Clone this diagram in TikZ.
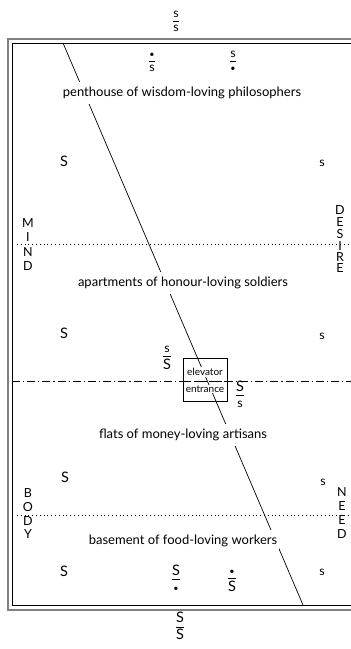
\documentclass[tikz,border=0pt]{standalone}
\usepackage{fontspec}
\setmainfont{Lato}
% stacked pair with a rule between, and a small dot
\newcommand{\stk}[2]{{\setlength{\arrayrulewidth}{0.6pt}\renewcommand{\arraystretch}{0.9}\begin{tabular}{@{}c@{}}#1\\[0pt]\hline\noalign{\vskip 2pt}#2\end{tabular}}}
\newcommand{\pip}{{\fontsize{9}{9}\selectfont\textbullet}}
\begin{document}
\begin{tikzpicture}[x=1pt,y=-1pt,
  floor/.style={font=\fontsize{13}{14}\selectfont, fill=white, inner xsep=2pt, inner ysep=5.5pt},
  bigs/.style={font=\fontsize{14.5}{15}\selectfont, inner sep=0pt},
  frc/.style={font=\fontsize{12.5}{13}\selectfont, inner sep=0pt},
  side/.style={font=\fontsize{12.5}{13}\selectfont, inner sep=0pt},
  lift/.style={font=\fontsize{10}{11}\selectfont, fill=white, inner sep=0.8pt},
  dots/.style={line width=0.6pt, dash pattern=on 0.8pt off 3pt},
  dashdot/.style={line width=0.7pt, dash pattern=on 8pt off 3pt on 1.2pt off 3pt}]
\useasboundingbox (0,0) rectangle (351,649);

% double frame
\draw[gray, line width=1.2pt] (8,39) rectangle (358,610);
\draw[black, line width=1pt] (12,43) rectangle (354,605);

% division lines
\draw[dots] (17,244) -- (351,244);
\draw[dots] (17,515) -- (351,515);
\draw[dashdot] (12,381) -- (351,381);

% slanting line through the building
\coordinate (slashtop) at (63,43);
\coordinate (slashbot) at (303,605);
\draw[line width=0.7pt] (slashtop) -- (slashbot);

% elevator
\node[draw, line width=0.7pt, minimum width=44pt, minimum height=43pt, inner sep=0pt] (box) at (205,380) {};
\node[lift] (elev) at (205,372) {elevator};
\node[lift] (entr) at (205,389) {entrance};
\draw[dashdot] (box.west |- 0,381) -- (box.east |- 0,381);

% floors
\node[floor] (pent) at (182,93) {penthouse of wisdom-loving philosophers};
\node[floor] (apts) at (183,283) {apartments of honour-loving soldiers};
\node[floor] (flats) at (183,435) {flats of money-loving artisans};
\node[floor] (base) at (183,541) {basement of food-loving workers};

% fractions
\node[frc] (ftop) at (176,22) {\stk{s}{s}};
\node[frc] (fa) at (152,62) {\stk{\pip}{s}};
\node[frc] (fb) at (233,62) {\stk{s}{\pip}};
\node[bigs] (fc) at (167,358) {\stk{\fontsize{12.5}{13}\selectfont s}{S}};
\node[bigs] (fd) at (240,396) {\stk{S}{\fontsize{12.5}{13}\selectfont s}};
\node[bigs] (fe) at (176,580) {\stk{S}{\pip}};
\node[bigs] (ff) at (232,580) {\stk{\pip}{S}};
\node[bigs] (fbot) at (180,628) {\stk{S}{S}};

% single letters
\node[bigs] (S1) at (64,161) {S};
\node[bigs] (S2) at (64,333) {S};
\node[bigs] (S3) at (65,477) {S};
\node[bigs] (S4) at (64,571) {S};
\node[frc] (s1) at (322,163) {s};
\node[frc] (s2) at (322,336) {s};
\node[frc] (s3) at (323,482) {s};
\node[frc] (s4) at (322,572) {s};

% side words
\node[side] (m1) at (28,223) {M};
\node[side] (m2) at (28,237) {I};
\node[side] (m3) at (28,252) {N};
\node[side] (m4) at (28,266) {D};
\node[side] (d1) at (340,210) {D};
\node[side] (d2) at (340,222) {E};
\node[side] (d3) at (340,234) {S};
\node[side] (d4) at (340,246) {I};
\node[side] (d5) at (340,257) {R};
\node[side] (d6) at (340,268) {E};
\node[side] (b1) at (28,493) {B};
\node[side] (b2) at (28,507) {O};
\node[side] (b3) at (28,521) {D};
\node[side] (b4) at (28,534) {Y};
\node[side] (n1) at (342,492) {N};
\node[side] (n2) at (342,506) {E};
\node[side] (n3) at (342,520) {E};
\node[side] (n4) at (342,534) {D};
\end{tikzpicture}
\end{document}
